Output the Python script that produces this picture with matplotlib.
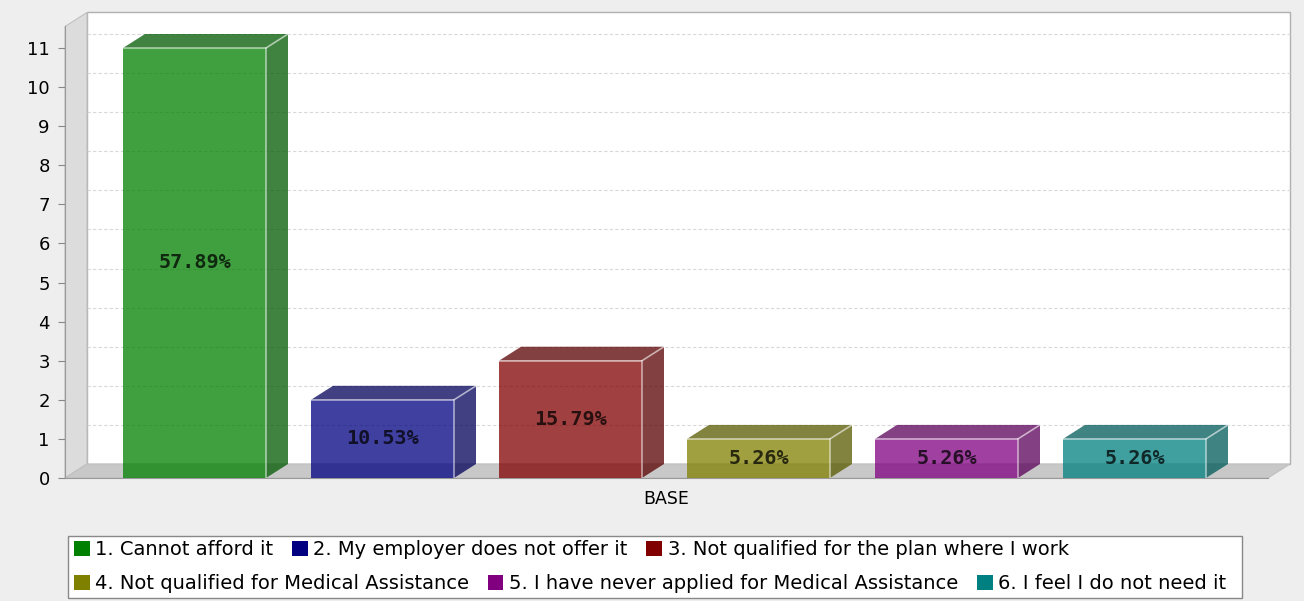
import matplotlib
matplotlib.use('Agg')
import matplotlib.pyplot as plt
from matplotlib.patches import Rectangle, Polygon, Patch
import numpy as np

# survey answers: counts per reason
categories = ['1. Cannot afford it',
              '2. My employer does not offer it',
              '3. Not qualified for the plan where I work',
              '4. Not qualified for Medical Assistance',
              '5. I have never applied for Medical Assistance',
              '6. I feel I do not need it']
counts = [11, 2, 3, 1, 1, 1]
percent_labels = ['57.89%', '10.53%', '15.79%', '5.26%', '5.26%', '5.26%']
colors = ['#008000', '#000080', '#800000', '#808000', '#800080', '#008080']
yticks = list(range(0, 12))

W, H = 1304, 601
fig = plt.figure(figsize=(W / 100, H / 100), dpi=100)
fig.patch.set_facecolor('#EEEEEE')

# front plane of the plot, in pixels
px_left, px_right, px_zero, px_eleven = 65, 1268, 478, 48
ppu = (px_zero - px_eleven) / 11.0
ymax = 11.55
ax = fig.add_axes([px_left / W, (H - px_zero) / H,
                   (px_right - px_left) / W, ymax * ppu / H])
ax.set_facecolor('none')

x_unit = 188.0
x0 = -(194.5 - px_left) / x_unit
x1 = x0 + (px_right - px_left) / x_unit
ax.set_xlim(x0, x1)
ax.set_ylim(0, ymax)

# 3D depth offsets in data units
dx = 22 / x_unit
dy = 14 / ppu

# back wall, side wall and floor
ax.add_patch(Rectangle((x0 + dx, dy), x1 - x0, ymax, facecolor='white',
                       edgecolor='#B0B0B0', lw=1, clip_on=False, zorder=0))
ax.hlines(np.arange(1, 12) + dy, x0 + dx, x1 + dx, colors='#D8D8D8',
          linestyles=(0, (3, 2)), lw=0.8, clip_on=False, zorder=0.5)
ax.add_patch(Polygon([(x0, 0), (x0 + dx, dy), (x0 + dx, ymax + dy), (x0, ymax)],
                     closed=True, facecolor='#DCDCDC', edgecolor='#C0C0C0',
                     lw=0.8, clip_on=False, zorder=1))
ax.add_patch(Polygon([(x0, 0), (x1, 0), (x1 + dx, dy), (x0 + dx, dy)],
                     closed=True, facecolor='#C8C8C8', edgecolor='#C0C0C0',
                     lw=0.8, clip_on=False, zorder=1))


def darker(c, f=0.7):
    r, g, b = matplotlib.colors.to_rgb(c)
    return (r * f, g * f, b * f)


bar_w = 143 / x_unit
alpha = 0.75
edge = (1, 1, 1, 0.55)
for i, (v, c, lab) in enumerate(zip(counts, colors, percent_labels)):
    l, r = i - bar_w / 2, i + bar_w / 2
    ax.add_patch(Rectangle((l, 0), bar_w, v, facecolor=c, alpha=alpha,
                           edgecolor='none', zorder=3))
    ax.add_patch(Polygon([(r, 0), (r + dx, dy), (r + dx, v + dy), (r, v)],
                         closed=True, facecolor=darker(c), alpha=alpha,
                         edgecolor='none', zorder=3))
    ax.add_patch(Polygon([(l, v), (r, v), (r + dx, v + dy), (l + dx, v + dy)],
                         closed=True, facecolor=darker(c), alpha=alpha,
                         edgecolor='none', zorder=3))
    ax.plot([l, r, r], [v, v, 0], color=edge, lw=1.2, zorder=4)
    ax.plot([r, r + dx], [v, v + dy], color=edge, lw=1.2, zorder=4)
    ax.text(i, v / 2, lab, ha='center', va='center', fontsize=14.5,
            fontweight='bold', family='DejaVu Sans Mono',
            color=(0, 0, 0, 0.75), zorder=5)

ax.set_yticks(yticks)
ax.set_yticklabels([str(t) for t in yticks], fontsize=13)
ax.tick_params(axis='y', length=5, width=0.8, color='#888888', pad=6)
ax.set_xticks([])
ax.set_xlabel('BASE', fontsize=12.5, labelpad=9)
for s in ['top', 'right']:
    ax.spines[s].set_visible(False)
for s in ['left', 'bottom']:
    ax.spines[s].set_color('#999999')
    ax.spines[s].set_linewidth(0.8)

# legend box with two flowing rows
fig.add_artist(Rectangle((68 / W, 1 - 598 / H), (1242 - 68) / W, 62 / H,
                         transform=fig.transFigure, facecolor='white',
                         edgecolor='#888888', lw=1))
handles = [Patch(facecolor=c, edgecolor='none') for c in colors]
for row, top in [(0, 540), (1, 574)]:
    fig.legend(handles[row * 3:row * 3 + 3], categories[row * 3:row * 3 + 3],
               loc='upper left', bbox_to_anchor=(74 / W, 1 - top / H),
               ncol=3, frameon=False, fontsize=14, handlelength=0.8,
               handleheight=0.8, handletextpad=0.3, columnspacing=0.95,
               borderaxespad=0, borderpad=0)

fig.savefig('out.png', dpi=100, facecolor=fig.get_facecolor())
